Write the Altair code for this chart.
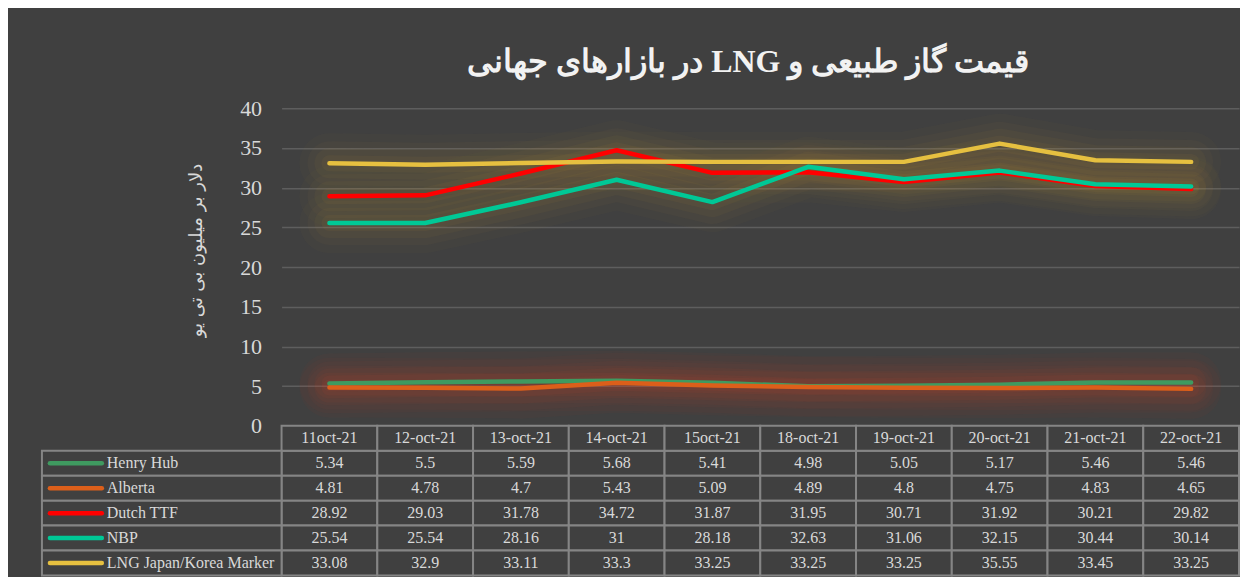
import altair as alt
import pandas as pd

dates = ["11oct-21", "12-oct-21", "13-oct-21", "14-oct-21", "15oct-21",
         "18-oct-21", "19-oct-21", "20-oct-21", "21-oct-21", "22-oct-21"]
series_names = ["Henry Hub", "Alberta", "Dutch TTF", "NBP", "LNG Japan/Korea Marker"]
henry_hub = [5.34, 5.5, 5.59, 5.68, 5.41, 4.98, 5.05, 5.17, 5.46, 5.46]
alberta = [4.81, 4.78, 4.7, 5.43, 5.09, 4.89, 4.8, 4.75, 4.83, 4.65]
dutch_ttf = [28.92, 29.03, 31.78, 34.72, 31.87, 31.95, 30.71, 31.92, 30.21, 29.82]
nbp = [25.54, 25.54, 28.16, 31, 28.18, 32.63, 31.06, 32.15, 30.44, 30.14]
lng = [33.08, 32.9, 33.11, 33.3, 33.25, 33.25, 33.25, 35.55, 33.45, 33.25]
series_values = [henry_hub, alberta, dutch_ttf, nbp, lng]
series_colors = ["#3f9a60", "#dc5f1a", "#ff0000", "#00c896", "#e6c040"]
glow_colors = ["#d8402a", "#d8402a", "#b8903a", "#b8903a", "#b8903a"]

# RLE ... PDF so the mixed Persian/Latin title is laid out right-to-left
title_text = "\u202B" + "قیمت گاز طبیعی و LNG در بازارهای جهانی" + "\u202C"
y_title = "دلار بر میلیون بی تی یو"

FONT = "Liberation Serif"
TXT = "#d9d9d9"
BG = "#404040"
BORDER = "#858585"

step = 95.9
W = step * len(dates)
PLOT_H = 318
ROW_H = 25
row_domain = ["hdr"] + series_names

line_rows, table_rows, legend_rows = [], [], []
for name, vals, col, glow in zip(series_names, series_values, series_colors, glow_colors):
    legend_rows.append(dict(row=name, color=col))
    for d, v in zip(dates, vals):
        line_rows.append(dict(date=d, series=name, value=v, glow=glow))
        table_rows.append(dict(date=d, row=name, label=f"{v:g}"))
for d in dates:
    table_rows.append(dict(date=d, row="hdr", label=d))

line_df = pd.DataFrame(line_rows)
table_df = pd.DataFrame(table_rows)
legend_df = pd.DataFrame(legend_rows)

x_pt = alt.X("date:N", sort=dates,
             scale=alt.Scale(type="point", domain=dates, padding=0.5), axis=None)
y_val = alt.Y("value:Q", scale=alt.Scale(domain=[0, 40]),
              axis=alt.Axis(values=list(range(0, 41, 5)), grid=True, domain=False, ticks=False,
                            labelFont=FONT, labelFontSize=22, labelColor=TXT, labelPadding=20,
                            gridColor="#5e5e5e", gridWidth=1.5,
                            title=y_title, titleFont="DejaVu Sans", titleFontSize=18,
                            titleColor=TXT, titleFontWeight="normal", titlePadding=34,
                            titleY=142))

base = alt.Chart(line_df)
glows = []
for w, op in [(60, 0.035), (44, 0.045), (30, 0.055), (16, 0.07)]:
    glows.append(base.mark_line(strokeWidth=w, opacity=op, strokeCap="round", strokeJoin="round").encode(
        x=x_pt, y=y_val, detail="series:N", color=alt.Color("glow:N", scale=None)))
lines = base.mark_line(strokeWidth=4.5, strokeCap="round", strokeJoin="round").encode(
    x=x_pt, y=y_val,
    color=alt.Color("series:N", scale=alt.Scale(domain=series_names, range=series_colors), legend=None))

top = alt.layer(*glows, lines).properties(width=W, height=PLOT_H)

bx = alt.X("date:N", scale=alt.Scale(type="band", domain=dates, paddingInner=0, paddingOuter=0), axis=None)
by = alt.Y("row:N", scale=alt.Scale(type="band", domain=row_domain, paddingInner=0, paddingOuter=0), axis=None)

cells = alt.Chart(table_df).mark_rect(fill=BG, stroke=BORDER, strokeWidth=2).encode(x=bx, y=by)
cell_text = alt.Chart(table_df).mark_text(font=FONT, fontSize=16, color=TXT).encode(
    x=bx, y=by, text="label:N")
leg_cells = alt.Chart(legend_df).mark_rect(fill=BG, stroke=BORDER, strokeWidth=2).encode(
    x=alt.value(-240), x2=alt.value(0), y=by)
leg_swatch = alt.Chart(legend_df).mark_rule(strokeWidth=4.5, strokeCap="round").encode(
    x=alt.value(-232), x2=alt.value(-180),
    y=alt.Y("row:N", scale=alt.Scale(type="band", domain=row_domain, paddingInner=0, paddingOuter=0),
            axis=None, bandPosition=0.5),
    color=alt.Color("color:N", scale=None))
leg_text = alt.Chart(legend_df).mark_text(font=FONT, fontSize=16, color=TXT, align="left").encode(
    x=alt.value(-175), y=by, text="row:N")

bottom = alt.layer(cells, cell_text, leg_cells, leg_swatch, leg_text).properties(
    width=W, height=ROW_H * len(row_domain))

chart = alt.vconcat(top, bottom, spacing=0, bounds="flush").properties(
    title=alt.TitleParams(title_text, font=FONT, fontSize=32, fontWeight="bold", color="#f2f2f2",
                          anchor="middle", frame="group", offset=18, dx=-12),
    background=BG,
    padding={"left": 33, "top": 38, "right": 0, "bottom": 0},
).configure_view(stroke=None)

chart.save("out.html", embed_options={"renderer": "svg", "actions": False})
